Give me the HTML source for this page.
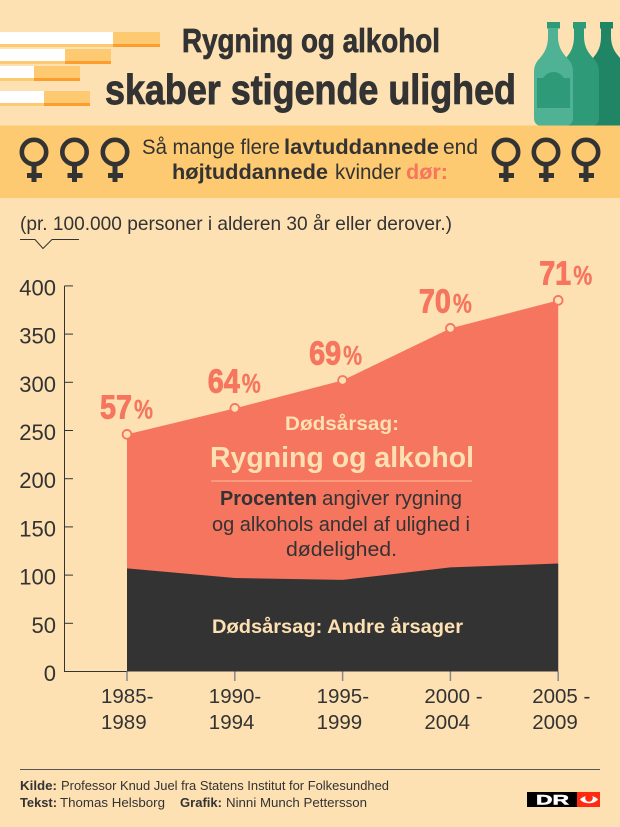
<!DOCTYPE html>
<html lang="da">
<head>
<meta charset="utf-8">
<title>Rygning og alkohol skaber stigende ulighed</title>
<style>
html,body{margin:0;padding:0;background:#fde1b2;}
svg{display:block;font-family:"Liberation Sans",sans-serif;}
.dark{fill:#333333;}
.cream{fill:#fde1b2;font-weight:bold;}
.b{font-weight:bold;}
</style>
</head>
<body>
<svg id="chart" width="620" height="827" viewBox="0 0 620 827" xmlns="http://www.w3.org/2000/svg">
  <rect x="0" y="0" width="620" height="827" fill="#fde1b2"/>

  <g>
    <rect x="0" y="44" width="113" height="3" fill="#fdc971"/><rect x="113" y="44" width="47" height="3" fill="#fd9d2d"/>
    <rect x="0" y="32" width="113" height="12" fill="#ffffff"/><rect x="113" y="32" width="47" height="12" fill="#fdc971"/>
    <rect x="0" y="61" width="65" height="3" fill="#fdc971"/><rect x="65" y="61" width="46" height="3" fill="#fd9d2d"/>
    <rect x="0" y="49" width="65" height="12" fill="#ffffff"/><rect x="65" y="49" width="46" height="12" fill="#fdc971"/>
    <rect x="0" y="78" width="34" height="3" fill="#fdc971"/><rect x="34" y="78" width="46" height="3" fill="#fd9d2d"/>
    <rect x="0" y="66" width="34" height="12" fill="#ffffff"/><rect x="34" y="66" width="46" height="12" fill="#fdc971"/>
    <rect x="0" y="103" width="44" height="3" fill="#fdc971"/><rect x="44" y="103" width="46" height="3" fill="#fd9d2d"/>
    <rect x="0" y="91" width="44" height="12" fill="#ffffff"/><rect x="44" y="91" width="46" height="12" fill="#fdc971"/>
  </g>

  <text class="dark b" x="182" y="52" font-size="33" stroke="#333333" stroke-width="0.7" textLength="258" lengthAdjust="spacingAndGlyphs">Rygning og alkohol</text>
  <text class="dark b" x="105" y="104" font-size="42" stroke="#333333" stroke-width="0.9" textLength="411" lengthAdjust="spacingAndGlyphs">skaber stigende ulighed</text>

  <g>
    <g transform="translate(53 0)" fill="#208565">
      <rect x="547" y="22" width="13" height="6.5"/>
      <path d="M548 28L558 28L558 36C558 48 563 53 567 58C571 62 573 66 573 72L573 118C573 123 570 126 565 126L542 126C537 126 534 123 534 118L534 72C534 66 536 62 540 58C544 53 548 48 548 36Z"/>
    </g>
    <g transform="translate(26 0)" fill="#2f9a78">
      <rect x="547" y="22" width="13" height="6.5"/>
      <path d="M548 28L558 28L558 36C558 48 563 53 567 58C571 62 573 66 573 72L573 118C573 123 570 126 565 126L542 126C537 126 534 123 534 118L534 72C534 66 536 62 540 58C544 53 548 48 548 36Z"/>
    </g>
    <g>
      <rect x="547" y="22" width="13" height="6.5" fill="#2f9a78"/>
      <path fill="#4fb295" d="M548 28L558 28L558 36C558 48 563 53 567 58C571 62 573 66 573 72L573 118C573 123 570 126 565 126L542 126C537 126 534 123 534 118L534 72C534 66 536 62 540 58C544 53 548 48 548 36Z"/>
      <path fill="#2f9a78" d="M537 78L543 78C546 74 549 72 553.5 72C558 72 561 74 564 78L570 78L570 108L537 108Z"/>
    </g>
  </g>

  <rect x="0" y="125.5" width="620" height="72.5" fill="#fdc971"/>

  <g fill="none" stroke="#333333">
    <g><circle cx="34" cy="152" r="12.2" stroke-width="4.6"/><path d="M34 165V182" stroke-width="5"/><path d="M27 175.5H42" stroke-width="5"/></g>
    <g transform="translate(40.5 0)"><circle cx="34" cy="152" r="12.2" stroke-width="4.6"/><path d="M34 165V182" stroke-width="5"/><path d="M27 175.5H42" stroke-width="5"/></g>
    <g transform="translate(81 0)"><circle cx="34" cy="152" r="12.2" stroke-width="4.6"/><path d="M34 165V182" stroke-width="5"/><path d="M27 175.5H42" stroke-width="5"/></g>
  </g>
  <g fill="none" stroke="#333333">
    <g transform="translate(472 0)"><circle cx="34" cy="152" r="12.2" stroke-width="4.6"/><path d="M34 165V182" stroke-width="5"/><path d="M27 175.5H42" stroke-width="5"/></g>
    <g transform="translate(512 0)"><circle cx="34" cy="152" r="12.2" stroke-width="4.6"/><path d="M34 165V182" stroke-width="5"/><path d="M27 175.5H42" stroke-width="5"/></g>
    <g transform="translate(552 0)"><circle cx="34" cy="152" r="12.2" stroke-width="4.6"/><path d="M34 165V182" stroke-width="5"/><path d="M27 175.5H42" stroke-width="5"/></g>
  </g>

  <g font-size="21.5">
    <text class="dark" x="142" y="154" textLength="138" lengthAdjust="spacingAndGlyphs">Så mange flere</text>
    <text class="dark b" x="284" y="154" textLength="155" lengthAdjust="spacingAndGlyphs">lavtuddannede</text>
    <text class="dark" x="443" y="154" textLength="35" lengthAdjust="spacingAndGlyphs">end</text>
    <text class="dark b" x="172" y="179" textLength="156" lengthAdjust="spacingAndGlyphs">højtuddannede</text>
    <text class="dark" x="335" y="179" textLength="66" lengthAdjust="spacingAndGlyphs">kvinder</text>
    <text class="b" fill="#f6755f" x="406" y="179" textLength="42" lengthAdjust="spacingAndGlyphs">dør:</text>
  </g>

  <text class="dark" x="20" y="230" font-size="19.5" textLength="432" lengthAdjust="spacingAndGlyphs">(pr. 100.000 personer i alderen 30 år eller derover.)</text>
  <path d="M20 239.5H35L43 248.5L52 239.5H79" fill="none" stroke="#333333" stroke-width="1"/>

  <g id="plot"></g>

  <g>
    <text class="cream" x="285" y="430" font-size="19.5" textLength="114" lengthAdjust="spacingAndGlyphs">Dødsårsag:</text>
    <text class="cream" x="210" y="467" font-size="28.5" textLength="264" lengthAdjust="spacingAndGlyphs">Rygning og alkohol</text>
    <rect x="211" y="480.5" width="261" height="1" fill="#fdbd97"/>
    <text class="dark b" x="220" y="505" font-size="20" textLength="97" lengthAdjust="spacingAndGlyphs">Procenten</text>
    <text class="dark" x="322" y="505" font-size="20" textLength="140" lengthAdjust="spacingAndGlyphs">angiver rygning</text>
    <text class="dark" x="212" y="531" font-size="20" textLength="258" lengthAdjust="spacingAndGlyphs">og alkohols andel af ulighed i</text>
    <text class="dark" x="286" y="556" font-size="20" textLength="111" lengthAdjust="spacingAndGlyphs">dødelighed.</text>
    <text class="cream" x="212" y="633" font-size="19.5" textLength="251" lengthAdjust="spacingAndGlyphs">Dødsårsag: Andre årsager</text>
  </g>

  <rect x="20" y="769" width="580" height="1" fill="#555555"/>
  <g font-size="13">
    <text class="dark b" x="20" y="790" textLength="37" lengthAdjust="spacingAndGlyphs">Kilde:</text>
    <text class="dark" x="61" y="790" textLength="328" lengthAdjust="spacingAndGlyphs">Professor Knud Juel fra Statens Institut for Folkesundhed</text>
    <text class="dark b" x="20" y="807" textLength="37" lengthAdjust="spacingAndGlyphs">Tekst:</text>
    <text class="dark" x="60" y="807" textLength="105" lengthAdjust="spacingAndGlyphs">Thomas Helsborg</text>
    <text class="dark b" x="180" y="807" textLength="42" lengthAdjust="spacingAndGlyphs">Grafik:</text>
    <text class="dark" x="226" y="807" textLength="141" lengthAdjust="spacingAndGlyphs">Ninni Munch Pettersson</text>
  </g>

  <g>
    <rect x="527" y="792" width="50" height="15" fill="#000000"/>
    <rect x="577" y="792" width="23" height="15" fill="#ff2a10"/>
    <text x="536" y="804.5" font-size="14" font-weight="bold" fill="#ffffff" stroke="#ffffff" stroke-width="0.5" textLength="33" lengthAdjust="spacingAndGlyphs">DR</text>
    <path d="M580 799.5C584 794.5 594 794.5 598 799.5C594 804.5 584 804.5 580 799.5Z" fill="#ffffff"/>
    <circle cx="589" cy="798" r="3.8" fill="#ff2a10"/>
  </g>
</svg>
<script>
var categories = [["1985-", "1989"], ["1990-", "1994"], ["1995-", "1999"], ["2000 -", "2004"], ["2005 -", "2009"]];
var totalDeaths = [246, 273, 302, 356, 385];
var otherCauses = [107, 97, 95, 108, 112];
var smokingShare = [57, 64, 69, 70, 71];
var yTickValues = [0, 50, 100, 150, 200, 250, 300, 350, 400];

var NS = "http://www.w3.org/2000/svg";
var plot = document.getElementById("plot");
var BG = "#fde1b2", CORAL = "#f6755f", INK = "#333333";

function xPos(i) { return 127 + i * 107.8; }
function yPos(v) { return 671.5 - v * 0.964; }
function labelNudge(i) {
  // The source artwork shifts the last labels slightly to clear the rising edge.
  return i === 2 ? -6.5 : i === 3 ? -4.5 : i === 4 ? 8 : 0;
}
function make(tag, attrs, parent) {
  var el = document.createElementNS(NS, tag);
  for (var k in attrs) el.setAttribute(k, attrs[k]);
  (parent || plot).appendChild(el);
  return el;
}
function areaPath(top, bottomFn) {
  var d = "";
  top.forEach(function (v, i) { d += (i ? "L" : "M") + xPos(i) + " " + yPos(v); });
  for (var i = top.length - 1; i >= 0; i--) d += "L" + xPos(i) + " " + yPos(bottomFn(i));
  return d + "Z";
}

var smokingArea = make("path", { d: areaPath(totalDeaths, function () { return 0; }), fill: CORAL });



var otherArea = make("path", { d: areaPath(otherCauses, function () { return 0; }), fill: INK });



var yAxis = make("path", { d: "M64.5 " + yPos(400) + "V" + yPos(0) + "H" + xPos(0), fill: "none", stroke: INK, "stroke-width": 1 });



yTickValues.forEach(function (v) {
  if (v > 0) {
    var tick = make("line", { x1: 64.5, x2: 73, y1: yPos(v), y2: yPos(v), stroke: INK, "stroke-width": 1 });
    
    
  }
  var label = make("text", { x: 56, y: yPos(v) + 9.5, "text-anchor": "end", "font-size": 22, fill: INK });
  
  
  label.textContent = String(v);
});

categories.forEach(function (lines, i) {
  var tick = make("line", { x1: xPos(i), x2: xPos(i), y1: 671.5, y2: 681, stroke: "#888888", "stroke-width": 1.5 });
  
  
  lines.forEach(function (line, j) {
    var label = make("text", { x: xPos(i) - 26, y: 703 + j * 26, "font-size": 20.5, fill: INK });
    
    
    label.textContent = line;
  });
});

totalDeaths.forEach(function (v, i) {
  var point = make("circle", { cx: xPos(i), cy: yPos(v), r: 4.4, fill: BG, stroke: CORAL, "stroke-width": 1.8 });
  
  

  var cx = xPos(i) + labelNudge(i);
  var base = yPos(v) - 16;
  var digits = make("text", { x: cx - 27, y: base, "font-size": 33, "font-weight": "bold", fill: CORAL, stroke: CORAL, "stroke-width": 0.9, textLength: 32, lengthAdjust: "spacingAndGlyphs" });
  
  
  digits.textContent = String(smokingShare[i]);

  var sign = make("text", { x: cx + 7, y: base, "font-size": 27, "font-weight": "bold", fill: CORAL, stroke: CORAL, "stroke-width": 0.3, textLength: 19, lengthAdjust: "spacingAndGlyphs" });
  
  
  sign.textContent = "%";
});
</script>
</body>
</html>
